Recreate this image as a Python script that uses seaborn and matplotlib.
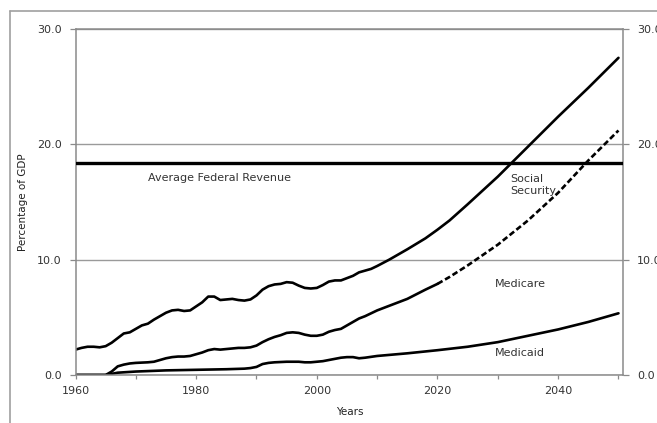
import matplotlib
matplotlib.use("Agg")
import matplotlib.pyplot as plt
from matplotlib.lines import Line2D
from matplotlib.ticker import FixedLocator
import seaborn as sns
import pandas as pd

# ---- data (percentage of GDP) ----
years_total = [1960, 1961, 1962, 1963, 1964, 1965, 1966, 1967, 1968, 1969, 1970, 1971, 1972,
               1973, 1974, 1975, 1976, 1977, 1978, 1979, 1980, 1981, 1982, 1983, 1984, 1985,
               1986, 1987, 1988, 1989, 1990, 1991, 1992, 1993, 1994, 1995, 1996, 1997, 1998,
               1999, 2000, 2001, 2002, 2003, 2004, 2005, 2006, 2007, 2008, 2009, 2010, 2012,
               2015, 2018, 2020, 2022, 2025, 2030, 2035, 2040, 2045, 2050]
total = [2.2, 2.35, 2.45, 2.45, 2.4, 2.5, 2.8, 3.2, 3.6, 3.7, 4.0, 4.3, 4.45,
         4.8, 5.1, 5.4, 5.6, 5.65, 5.55, 5.6, 5.95, 6.3, 6.8, 6.8, 6.5, 6.55,
         6.6, 6.5, 6.45, 6.55, 6.9, 7.4, 7.7, 7.85, 7.9, 8.05, 8.0, 7.75, 7.55,
         7.5, 7.55, 7.8, 8.1, 8.2, 8.2, 8.4, 8.6, 8.9, 9.05, 9.2, 9.45, 10.0,
         10.9, 11.85, 12.6, 13.4, 14.8, 17.2, 19.8, 22.4, 24.9, 27.5]

years_mid = [1960, 1965, 1966, 1967, 1968, 1969, 1970, 1972, 1973, 1974, 1975, 1976, 1977,
             1978, 1979, 1980, 1981, 1982, 1983, 1984, 1985, 1986, 1987, 1988, 1989, 1990,
             1991, 1992, 1993, 1994, 1995, 1996, 1997, 1998, 1999, 2000, 2001, 2002, 2003,
             2004, 2005, 2006, 2007, 2008, 2010, 2012, 2015, 2018, 2020]
mid = [0.0, 0.0, 0.3, 0.75, 0.9, 1.0, 1.05, 1.1, 1.15, 1.3, 1.45, 1.55, 1.6,
       1.6, 1.65, 1.8, 1.95, 2.15, 2.25, 2.2, 2.25, 2.3, 2.35, 2.35, 2.4, 2.55,
       2.85, 3.1, 3.3, 3.45, 3.65, 3.7, 3.65, 3.5, 3.4, 3.4, 3.5, 3.75, 3.9,
       4.0, 4.3, 4.6, 4.9, 5.1, 5.6, 6.0, 6.6, 7.4, 7.9]
years_mid_proj = [2020, 2022, 2025, 2030, 2035, 2040, 2045, 2050]
mid_proj = [7.9, 8.5, 9.5, 11.3, 13.4, 15.8, 18.6, 21.2]

years_low = [1960, 1965, 1966, 1967, 1970, 1975, 1980, 1985, 1988, 1989, 1990, 1991, 1992,
             1993, 1995, 1996, 1997, 1998, 1999, 2000, 2001, 2002, 2003, 2004, 2005, 2006,
             2007, 2008, 2010, 2015, 2020, 2025, 2030, 2035, 2040, 2045, 2050]
low = [0.0, 0.0, 0.1, 0.2, 0.3, 0.4, 0.45, 0.5, 0.55, 0.6, 0.7, 0.95, 1.05,
       1.1, 1.15, 1.15, 1.15, 1.1, 1.1, 1.15, 1.2, 1.3, 1.4, 1.5, 1.55, 1.55,
       1.45, 1.5, 1.65, 1.88, 2.15, 2.45, 2.85, 3.4, 3.95, 4.6, 5.35]

avg_revenue = 18.4

y_ticks = [0, 10, 20, 30]
y_ticklabels = ["0.0", "10.0", "20.0", "30.0"]
x_major = [1960, 1980, 2000, 2020, 2040]
x_minor = [1970, 1990, 2010, 2030, 2050]

# ---- figure ----
sns.set_style("ticks")
plt.rcParams["font.family"] = ["DejaVu Sans"]

W, H = 657, 423
fig = plt.figure(figsize=(W / 100, H / 100), dpi=100)
left, right, top, bottom = 75.5, 623.3, 29, 375
ax = fig.add_axes([left / W, 1 - bottom / H, (right - left) / W, (bottom - top) / H])

line_kw = dict(color="black", linewidth=1.9, ax=ax, legend=False)
sns.lineplot(data=pd.DataFrame({"year": years_total, "v": total}), x="year", y="v", **line_kw)
sns.lineplot(data=pd.DataFrame({"year": years_mid, "v": mid}), x="year", y="v", **line_kw)
sns.lineplot(data=pd.DataFrame({"year": years_mid_proj, "v": mid_proj}), x="year", y="v",
             color="black", linewidth=1.9, ax=ax, legend=False, linestyle=(0, (2.2, 1.1)))
sns.lineplot(data=pd.DataFrame({"year": years_low, "v": low}), x="year", y="v", **line_kw)

ax.axhline(avg_revenue, color="black", linewidth=2.4, zorder=3)

ax.set_xlim(1960, 2050.8)
ax.set_ylim(0, 30)

spine_c = "#8a8a8a"
for s in ax.spines.values():
    s.set_color(spine_c)
    s.set_linewidth(1.1)

ax.yaxis.set_major_locator(FixedLocator(y_ticks))
ax.set_yticklabels(y_ticklabels)
ax.xaxis.set_major_locator(FixedLocator(x_major))
ax.xaxis.set_minor_locator(FixedLocator(x_minor))
ax.set_xticklabels([str(v) for v in x_major])
ax.grid(axis="y", color="#9a9a9a", linewidth=1.0)
ax.set_axisbelow(True)

ax.tick_params(axis="both", which="both", color=spine_c, labelcolor="#333333",
               labelsize=8, width=0.9)
ax.tick_params(axis="y", length=4, pad=6)
ax.tick_params(axis="x", which="both", length=3, pad=5)

ax.set_xlabel("Years", fontsize=7.5, color="#222222", labelpad=8)
ax.set_ylabel("Percentage of GDP", fontsize=7.5, color="#222222")
ax.yaxis.set_label_coords((28 - left) / (right - left), 0.5)

ax2 = ax.twinx()
ax2.set_ylim(0, 30)
ax2.yaxis.set_major_locator(FixedLocator(y_ticks))
ax2.set_yticklabels(y_ticklabels)
ax2.tick_params(axis="y", length=4, pad=6, color=spine_c, labelcolor="#333333",
                labelsize=8, width=0.9)
for s in ax2.spines.values():
    s.set_visible(False)

txt = dict(fontsize=8, color="#333333")
ax.text(1983.9, 17.1, "Average Federal Revenue", ha="center", va="center", **txt)
ax.text(2032.0, 16.5, "Social\nSecurity", ha="left", va="center", linespacing=1.3, **txt)
ax.text(2029.5, 7.9, "Medicare", ha="left", va="center", **txt)
ax.text(2029.5, 1.9, "Medicaid", ha="left", va="center", **txt)

# outer frame (left and top edges visible)
frame_c = "#a0a0a0"
fig.add_artist(Line2D([10 / W, 10 / W], [0, 1 - 11 / H], transform=fig.transFigure,
                      color=frame_c, linewidth=1.2))
fig.add_artist(Line2D([10 / W, 1], [1 - 11 / H, 1 - 11 / H], transform=fig.transFigure,
                      color=frame_c, linewidth=1.2))

fig.savefig("out.png", dpi=100)
